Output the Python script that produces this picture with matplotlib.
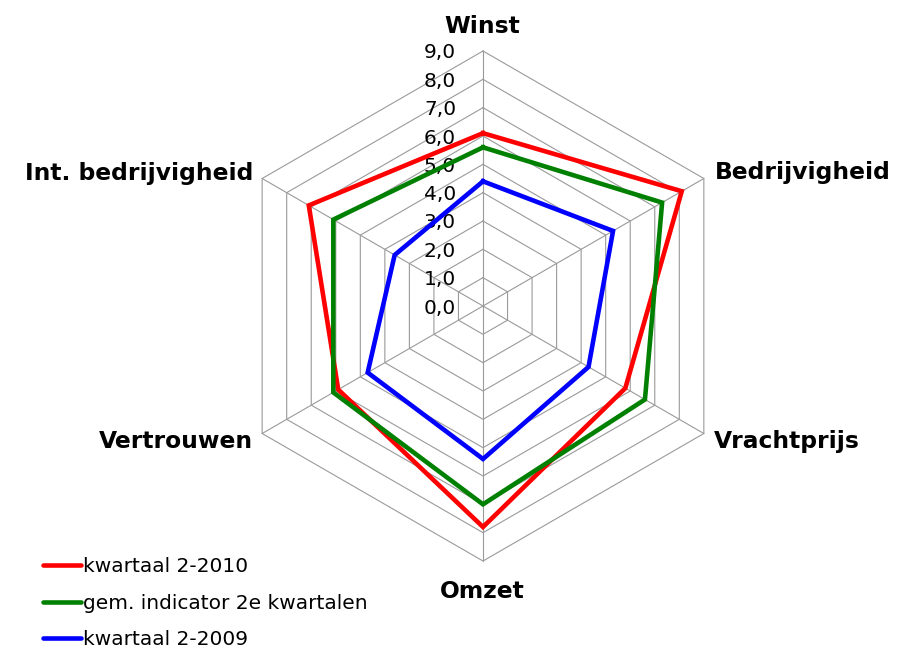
import numpy as np
import matplotlib
matplotlib.use("Agg")
import matplotlib.pyplot as plt
from matplotlib.lines import Line2D

# ---- data ----
categories = ["Winst", "Bedrijvigheid", "Vrachtprijs", "Omzet", "Vertrouwen", "Int. bedrijvigheid"]
series_labels = ["kwartaal 2-2010", "gem. indicator 2e kwartalen", "kwartaal 2-2009"]
kwartaal_2010 = [6.1, 8.1, 5.8, 7.8, 5.9, 7.1]
gem_indicator = [5.6, 7.3, 6.6, 7.0, 6.1, 6.1]
kwartaal_2009 = [4.4, 5.3, 4.3, 5.4, 4.7, 3.6]
tick_values = [0, 1, 2, 3, 4, 5, 6, 7, 8, 9]
tick_labels = ["0,0", "1,0", "2,0", "3,0", "4,0", "5,0", "6,0", "7,0", "8,0", "9,0"]

series = [kwartaal_2010, gem_indicator, kwartaal_2009]
colors = ["#FF0000", "#008000", "#0000FF"]

plt.rcParams['font.family'] = ['DejaVu Sans']

W, H = 902, 650
fig = plt.figure(figsize=(W / 100, H / 100), dpi=100)
cx, cy, R = 483, 306, 255
ax = fig.add_axes([(cx - R) / W, 1 - (cy + R) / H, 2 * R / W, 2 * R / H], projection='polar')
ax.set_theta_offset(np.pi / 2)
ax.set_theta_direction(-1)
ax.set_ylim(0, 9)
ax.grid(False)
ax.set_xticks([])
ax.set_yticks([])
ax.spines['polar'].set_visible(False)
ax.patch.set_visible(False)

n = len(categories)
angles = np.linspace(0, 2 * np.pi, n, endpoint=False)
closed = np.concatenate([angles, angles[:1]])

grid_color = "#9a9a9a"
for k in tick_values[1:]:
    ax.plot(closed, [k] * (n + 1), color=grid_color, lw=0.8, clip_on=False, zorder=1)
for a in angles:
    ax.plot([a, a], [0, 9], color=grid_color, lw=0.8, clip_on=False, zorder=1)

handles = []
for vals, col, lab in zip(series, colors, series_labels):
    v = list(vals) + [vals[0]]
    ax.plot(closed, v, color=col, lw=3.3, clip_on=False, zorder=3, label=lab,
            solid_joinstyle='miter')
    handles.append(Line2D([], [], color=col, lw=3.3, solid_capstyle='round'))

# tick labels
for val, lab in zip(tick_values, tick_labels):
    ax.annotate(lab, xy=(0, val), xytext=(-27, 0), textcoords='offset pixels',
                ha='right', va='center_baseline', fontsize=14.5, color='#000000',
                annotation_clip=False, zorder=2)

# category labels: (dx, dy, ha)
offsets = [(-1, 18, 'center'), (11, 0, 'left'), (10, -14.5, 'left'),
           (-1, -37, 'center'), (-9, -14.5, 'right'), (-9, -1.5, 'right')]
for a, cat, (dx, dy, ha) in zip(angles, categories, offsets):
    ax.annotate(cat, xy=(a, 9), xytext=(dx, dy), textcoords='offset pixels',
                ha=ha, va='baseline', fontsize=16.8, fontweight='bold',
                annotation_clip=False)

fig.legend(handles, series_labels, loc='upper left', bbox_to_anchor=(43 / W, 1 - 557 / H),
           frameon=False, fontsize=14.5, handlelength=1.9, handletextpad=0.1,
           borderpad=0, borderaxespad=0, labelspacing=0.88)

fig.savefig("out.png", dpi=100)
